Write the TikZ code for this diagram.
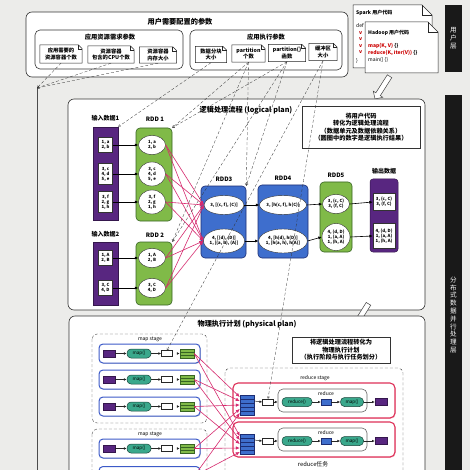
\documentclass[tikz,border=0pt]{standalone}
\usepackage{fontspec}
\setmainfont{Noto Sans CJK SC}
\usetikzlibrary{arrows.meta,shapes.geometric,shapes.arrows,shadows,calc}
\definecolor{pur}{RGB}{88,38,128}
\definecolor{grn}{RGB}{128,186,72}
\definecolor{dgrn}{RGB}{55,100,35}
\definecolor{blu}{RGB}{62,110,205}
\definecolor{dblu}{RGB}{28,45,115}
\definecolor{mag}{RGB}{214,42,110}
\definecolor{tealf}{RGB}{58,168,140}
\definecolor{rowblu}{RGB}{60,90,200}
\definecolor{rowred}{RGB}{222,48,88}
\definecolor{bg}{RGB}{236,236,234}
\newcommand\fsz[2]{\fontsize{#1}{#2}\selectfont}
\newcommand\docshape[1]{%
 \draw[docline] (#1.south west) -- (#1.north west) -- ([xshift=-4pt]#1.north east) -- ([yshift=-4pt]#1.north east) -- (#1.south east) -- cycle;
 \draw[docline] ([xshift=-4pt]#1.north east) -- ([xshift=-4pt,yshift=-4pt]#1.north east) -- ([yshift=-4pt]#1.north east);}
\tikzset{
 docline/.style={draw=black!85,line width=0.5pt},
 box/.style={draw=black!80,line width=0.6pt,rounded corners=6pt,fill=white},
 ttl/.style={font=\fsz{7.2}{8}\bfseries},
 ttltwo/.style={font=\fsz{6.3}{7}\bfseries},
 ttlthree/.style={font=\fsz{6}{7}\bfseries},
 note/.style={font=\fsz{5.3}{6.2}\bfseries},
 cmt/.style={draw=black!80,line width=0.5pt,fill=white,drop shadow={shadow xshift=1.2pt,shadow yshift=-1.2pt,fill=black!35},font=\fsz{6.2}{7.4}\bfseries},
 barbox/.style={fill=black!90,minimum width=17pt,text=white},
 bartxt/.style={text=white,font=\fsz{6.6}{7.8}},
 purp/.style={fill=pur,draw=pur!60!black,line width=0.5pt,minimum width=25pt},
 cell/.style={draw=black!80,fill=white,line width=0.4pt,minimum width=14pt,font=\fsz{4.3}{5.1}\bfseries},
 grnbox/.style={fill=grn,draw=dgrn,line width=0.6pt,rounded corners=4pt},
 blubox/.style={fill=blu,draw=dblu,line width=0.6pt,rounded corners=4pt},
 ell/.style={ellipse,draw=black!80,fill=white,line width=0.4pt,font=\fsz{4.3}{5.1}\bfseries},
 blk/.style={-{Latex[length=3.5pt,width=3pt]},line width=0.6pt,draw=black},
 magarr/.style={-{Latex[length=4pt,width=3.5pt]},line width=0.6pt,draw=mag},
 param/.style={densely dashed,line width=0.3pt,draw=black!80,-{Straight Barb[length=2pt,width=2.5pt]}},
 hollow/.style={single arrow,draw=black!75,fill=white,line width=0.5pt,inner sep=2.4pt,single arrow head extend=3pt,minimum height=27pt},
 stagebox/.style={densely dashed,draw=black!70,line width=0.4pt,rounded corners=5pt},
 small/.style={font=\fsz{5}{6}},
 maprow/.style={draw=rowblu,line width=1pt,rounded corners=4pt,fill=white,minimum width=101pt,minimum height=19pt,drop shadow={shadow xshift=0.8pt,shadow yshift=-0.8pt,fill=black!30}},
 redrow/.style={draw=rowred,line width=1.1pt,rounded corners=5pt,fill=white,minimum width=162pt,minimum height=35pt,drop shadow={shadow xshift=0.8pt,shadow yshift=-0.8pt,fill=rowred!40}},
 pbox/.style={fill=pur,draw=pur!60!black,line width=0.4pt,minimum width=12pt,minimum height=7pt},
 fnbox/.style={draw=tealf!40!black,fill=tealf,line width=0.5pt,rounded corners=4pt,minimum height=9pt,font=\fsz{4.6}{5.2}},
 wbox/.style={draw=black!85,fill=white,line width=0.5pt,minimum width=11pt,minimum height=6pt},
 gbox/.style={draw=dgrn,fill=grn,line width=0.5pt,minimum width=14pt,minimum height=9pt},
 sblock/.style={draw=dblu,fill=blu,line width=0.4pt,minimum width=14pt,minimum height=4pt},
 grybox/.style={draw=black!60,line width=0.6pt,rounded corners=5pt,fill=white,minimum width=89pt,minimum height=23pt},
 sarr/.style={-{Latex[length=2.8pt,width=2.6pt]},line width=0.5pt,draw=black!85},
 thinline/.style={draw=black!70,line width=0.4pt},
 code/.style={anchor=west,font=\fsz{5}{6}},
 codeb/.style={anchor=west,font=\fsz{5}{6}\bfseries}
}
\begin{document}
\begin{tikzpicture}[x=1pt,y=-1pt,every node/.style={inner sep=0pt,align=center,font=\fsz{4.5}{5.4}}]
\useasboundingbox (0,0) rectangle (470,470);
\clip (0,0) rectangle (470,470);
\fill[bg] (0,0) rectangle (470,470);

% ---------- side bars ----------
\node[barbox,minimum height=67pt] (barU) at (453.5,38.5) {};
\node[bartxt] (barUt) at (453.5,38.5) {用\\户\\层};
\node[barbox,minimum height=380pt] (barD) at (453.5,285) {};
\node[bartxt] (barDt) at (453.5,315) {分\\布\\式\\数\\据\\并\\行\\处\\理\\层};

% ---------- user parameters ----------
\draw[box] (26,12) rectangle (348,77);
\node[ttl] (tparam) at (180,22) {用户需要配置的参数};
\draw[box,rounded corners=5pt] (35,30) rectangle (183,69);
\node[ttltwo] (tres) at (110,37.5) {应用资源需求参数};
\draw[box,rounded corners=5pt] (190,30) rectangle (342,70);
\node[ttltwo] (texe) at (266,37.5) {应用执行参数};

\node[note,minimum width=42pt,minimum height=18pt] (n1) at (61,54) {应用需要的\\资源容器个数}; \docshape{n1}
\node[note,minimum width=46pt,minimum height=17pt] (n2) at (111,54.5) {资源容器\\包含的CPU个数}; \docshape{n2}
\node[note,minimum width=37pt,minimum height=16pt] (n3) at (158,55) {资源容器\\内存大小}; \docshape{n3}
\node[note,minimum width=31pt,minimum height=16pt] (m1) at (211,54.5) {数据分块\\大小}; \docshape{m1}
\node[note,minimum width=33pt,minimum height=17pt] (m2) at (248.5,53.5) {partition\\个数}; \docshape{m2}
\node[note,minimum width=37pt,minimum height=17pt] (m3) at (287,53) {partition()\\函数}; \docshape{m3}
\node[note,minimum width=28pt,minimum height=17pt] (m4) at (323,52) {缓冲区\\大小}; \docshape{m4}

% ---------- user code notes ----------
\draw[docline,fill=white] (353,5) -- (422,5) -- (432,15) -- (432,68) -- (353,68) -- cycle;
\draw[docline] (422,5) -- (422,15) -- (432,15);
\node[codeb] (spk) at (356,13) {Spark 用户代码};
\node[code] (spk1) at (356,26) {def};
\node[codeb,text=red!75!black] (spk2) at (359,33) {v};
\node[codeb,text=red!75!black] (spk3) at (359,39.5) {v};
\node[codeb,text=red!75!black] (spk4) at (359,46) {v};
\node[codeb,text=red!75!black] (spk5) at (359,52.5) {v};
\node[code] (spk6) at (356,61) {\}};
\draw[docline,fill=white] (365,22) -- (428,22) -- (438,32) -- (438,73) -- (365,73) -- cycle;
\draw[docline] (428,22) -- (428,32) -- (438,32);
\node[codeb] (hdp) at (368,33) {Hadoop 用户代码};
\node[codeb] (hdp1) at (368,46) {\textcolor{red!80!black}{map(K, V)} \{\}};
\node[codeb] (hdp2) at (368,53) {\textcolor{red!80!black}{reduce(K, iter(V))} \{\}};
\node[code] (hdp3) at (368,60) {main() \{\}};

\node[hollow,rotate=237.5] (ha1) at (383,86.5) {};

% ---------- layer line ----------
\coordinate (lay) at (37,88);
\draw[thinline] (lay) -- (37,480);

% ---------- logical plan ----------
\draw[box] (68,99) rectangle (425,310);
\node[ttl] (tlog) at (246,110) {逻辑处理流程 (logical plan)};
\node[cmt,minimum width=118pt,minimum height=42pt] (lnote) at (361,127) {将用户代码\\转化为逻辑处理流程\\（数据单元及数据依赖关系）\\（圆圈中的数字是逻辑执行结果）};

\node[ttlthree] (lin1) at (105.5,118) {输入数据1};
\node[purp,minimum height=93pt] (in1) at (105.5,173.5) {};
\node[cell,minimum height=15pt] (s11) at (105.5,145) {1, a\\2, b};
\node[cell,minimum height=21pt] (s12) at (105.5,174) {3, c\\4, d\\5, e};
\node[cell,minimum height=21pt] (s13) at (105.5,202) {3, f\\2, g\\1, h};

\node[ttlthree] (lr1) at (155,119) {RDD 1};
\node[grnbox,minimum width=36pt,minimum height=93pt] (rdd1) at (154,174.5) {};
\node[ell,minimum width=27pt,minimum height=19pt] (e11) at (152,145) {1, a\\2, b};
\node[ell,minimum width=27pt,minimum height=24pt] (e12) at (152,174) {3, c\\4, d\\5, e};
\node[ell,minimum width=27pt,minimum height=24pt] (e13) at (152,202) {3, f\\2, g\\1, h};

\node[ttlthree] (lin2) at (105.5,234.5) {输入数据2};
\node[purp,minimum height=63pt] (in2) at (105.5,273.5) {};
\node[cell,minimum height=15pt] (s21) at (105.5,258) {1, A\\2, B};
\node[cell,minimum height=15pt] (s22) at (105.5,288) {3, C\\4, D};

\node[ttlthree] (lr2) at (155,235.5) {RDD 2};
\node[grnbox,minimum width=36pt,minimum height=63pt] (rdd2) at (154,273.5) {};
\node[ell,minimum width=27pt,minimum height=19pt] (e21) at (152,258) {1, A\\2, B};
\node[ell,minimum width=27pt,minimum height=19pt] (e22) at (152,288) {3, C\\4, D};

\node[ttlthree] (lr3) at (224,179) {RDD3};
\node[blubox,minimum width=45pt,minimum height=72pt] (rdd3) at (223.5,222) {};
\node[ell,minimum width=40pt,minimum height=19pt] (r31) at (224,205) {3, [(c, f), (C)]};
\node[ell,minimum width=41pt,minimum height=24pt] (r32) at (224,241) {4, [(d), (D)]\\1, [(a, h), (A)]};

\node[ttlthree] (lr4) at (283,178) {RDD4};
\node[blubox,minimum width=50pt,minimum height=73pt] (rdd4) at (283,221.5) {};
\node[ell,minimum width=45pt,minimum height=19pt] (r41) at (283,205) {3, [h(c, f), h(C)]};
\node[ell,minimum width=46pt,minimum height=24pt] (r42) at (283,241) {4, [h(d), h(D)]\\1, [h(a, h), h(A)]};

\node[ttlthree] (lr5) at (336,175) {RDD5};
\node[grnbox,minimum width=32pt,minimum height=70pt] (rdd5) at (336,217) {};
\node[ell,minimum width=27pt,minimum height=19pt] (r51) at (336,204) {3, (c, C)\\3, (f, C)};
\node[ell,minimum width=28pt,minimum height=27pt] (r52) at (336,237) {4, (d, D)\\1, (a, A)\\1, (h, A)};

\node[ttlthree] (lout) at (384,171) {输出数据};
\node[purp,minimum width=28pt,minimum height=73pt,rounded corners=3pt] (outd) at (384,215.5) {};
\node[cell,minimum width=22pt,minimum height=17pt] (o1) at (384,202) {3, (c, C)\\3, (f, C)};
\node[cell,minimum width=22pt,minimum height=25pt] (o2) at (384,236) {4, (d, D)\\1, (a, A)\\1, (h, A)};

\foreach \a/\b in {s11/e11,s12/e12,s13/e13,s21/e21,s22/e22,r31/r41,r32/r42,r41/r51,r42/r52,r51/o1,r52/o2}
  \draw[blk] (\a.east) -- (\b.west);
\foreach \a in {e11,e12,e13,e21,e22}{
  \draw[magarr] (\a.east) -- (r31.west);
  \draw[magarr] (\a.east) -- (r32.west);}

% ---------- physical plan ----------
\node[hollow,rotate=238,minimum height=29pt] (ha2) at (361.5,315) {};
\draw[box] (69,316) rectangle (425,495);
\node[ttl] (tphy) at (247,324.5) {物理执行计划 (physical plan)};
\node[cmt,minimum width=98pt,minimum height=26pt] (pnote) at (341,350) {将逻辑处理流程转化为\\物理执行计划\\（执行阶段与执行任务划分）};

\draw[stagebox] (92,334) rectangle (207,423);
\node[small] (ms1) at (150,339.5) {map stage};
\draw[stagebox] (92,429) rectangle (207,495);
\node[small] (ms2) at (150,434) {map stage};

\foreach \i/\c/\lab in {1/353.5/map(),2/379.5/map(),3/406.5/map(),4/448.5/map(),5/476/{}}{
  \node[maprow] (mr\i) at (149.5,\c) {};
  \node[pbox] (mp\i) at (109,\c) {};
  \node[fnbox,minimum width=24pt] (mf\i) at (139,\c) {\lab};
  \node[wbox] (mw\i) at (167,\c) {};
  \node[gbox] (mg\i) at (187,\c) {};
  \draw[draw=dgrn,line width=0.4pt] ([yshift=3pt]mg\i.south west) -- ([yshift=3pt]mg\i.south east);
  \draw[draw=dgrn,line width=0.4pt] ([yshift=-3pt]mg\i.north west) -- ([yshift=-3pt]mg\i.north east);
  \draw[sarr] (mp\i) -- (mf\i);
  \draw[sarr] (mf\i) -- (mw\i);
  \draw[sarr,double,double distance=0.6pt] (mw\i) -- (mg\i);
}

\draw[stagebox] (225,368) rectangle (403,495);
\node[small] (rst) at (315,378.5) {reduce stage};
\node[font=\fsz{5.8}{6.5}] (rtask) at (313,464) {reduce任务};

\foreach \j/\y in {1/402,2/441}{
  \node[redrow] (rr\j) at (314,\y-1.5) {};
  \foreach \k in {1,...,5}
    \node[sblock] (rb\j-\k) at (247,\y-9+4*\k) {};
  \node[wbox] (rw\j) at (268,\y) {};
  \node[grybox] (rf\j) at (322.5,\y-1.5) {};
  \node[small] (rl\j) at (326,\y-8.5) {reduce};
  \node[fnbox,minimum width=30pt] (rd\j) at (297,\y) {reduce()};
  \node[draw=dblu,fill=blu,line width=0.4pt,minimum width=10pt,minimum height=6pt] (rbb\j) at (326,\y) {};
  \node[fnbox,minimum width=23pt] (rm\j) at (352,\y) {map()};
  \node[pbox] (ro\j) at (381,\y) {};
  \draw[sarr] (rb\j-2.east) -- (rw\j.west);
  \draw[sarr] (rw\j.east) -- (rw\j.east -| rf\j.west);
  \draw[sarr] (rd\j) -- (rbb\j);
  \draw[sarr] (rbb\j) -- (rm\j);
  \draw[sarr] (rm\j) -- (ro\j);
}
\foreach \i in {1,...,5}{
  \draw[magarr] (mg\i.east) -- (rb1-\i.west);
  \draw[magarr] (mg\i.east) -- (rb2-\i.west);}

% ---------- parameter links ----------
\foreach \n in {n1,n2,n3} \draw[param] (\n.south) -- (lay);
\draw[param] (m1.south) -- (in1.north east);
\foreach \t in {rdd1,rdd2,rdd3}{
  \draw[param] (m2.south) -- (\t.north east);
  \draw[param] (m3.south) -- (\t.north east);}
\draw[param] (m4.south) -- (mw1.north);
\draw[param] (m4.south) -- (rw1.north);
\end{tikzpicture}
\end{document}
